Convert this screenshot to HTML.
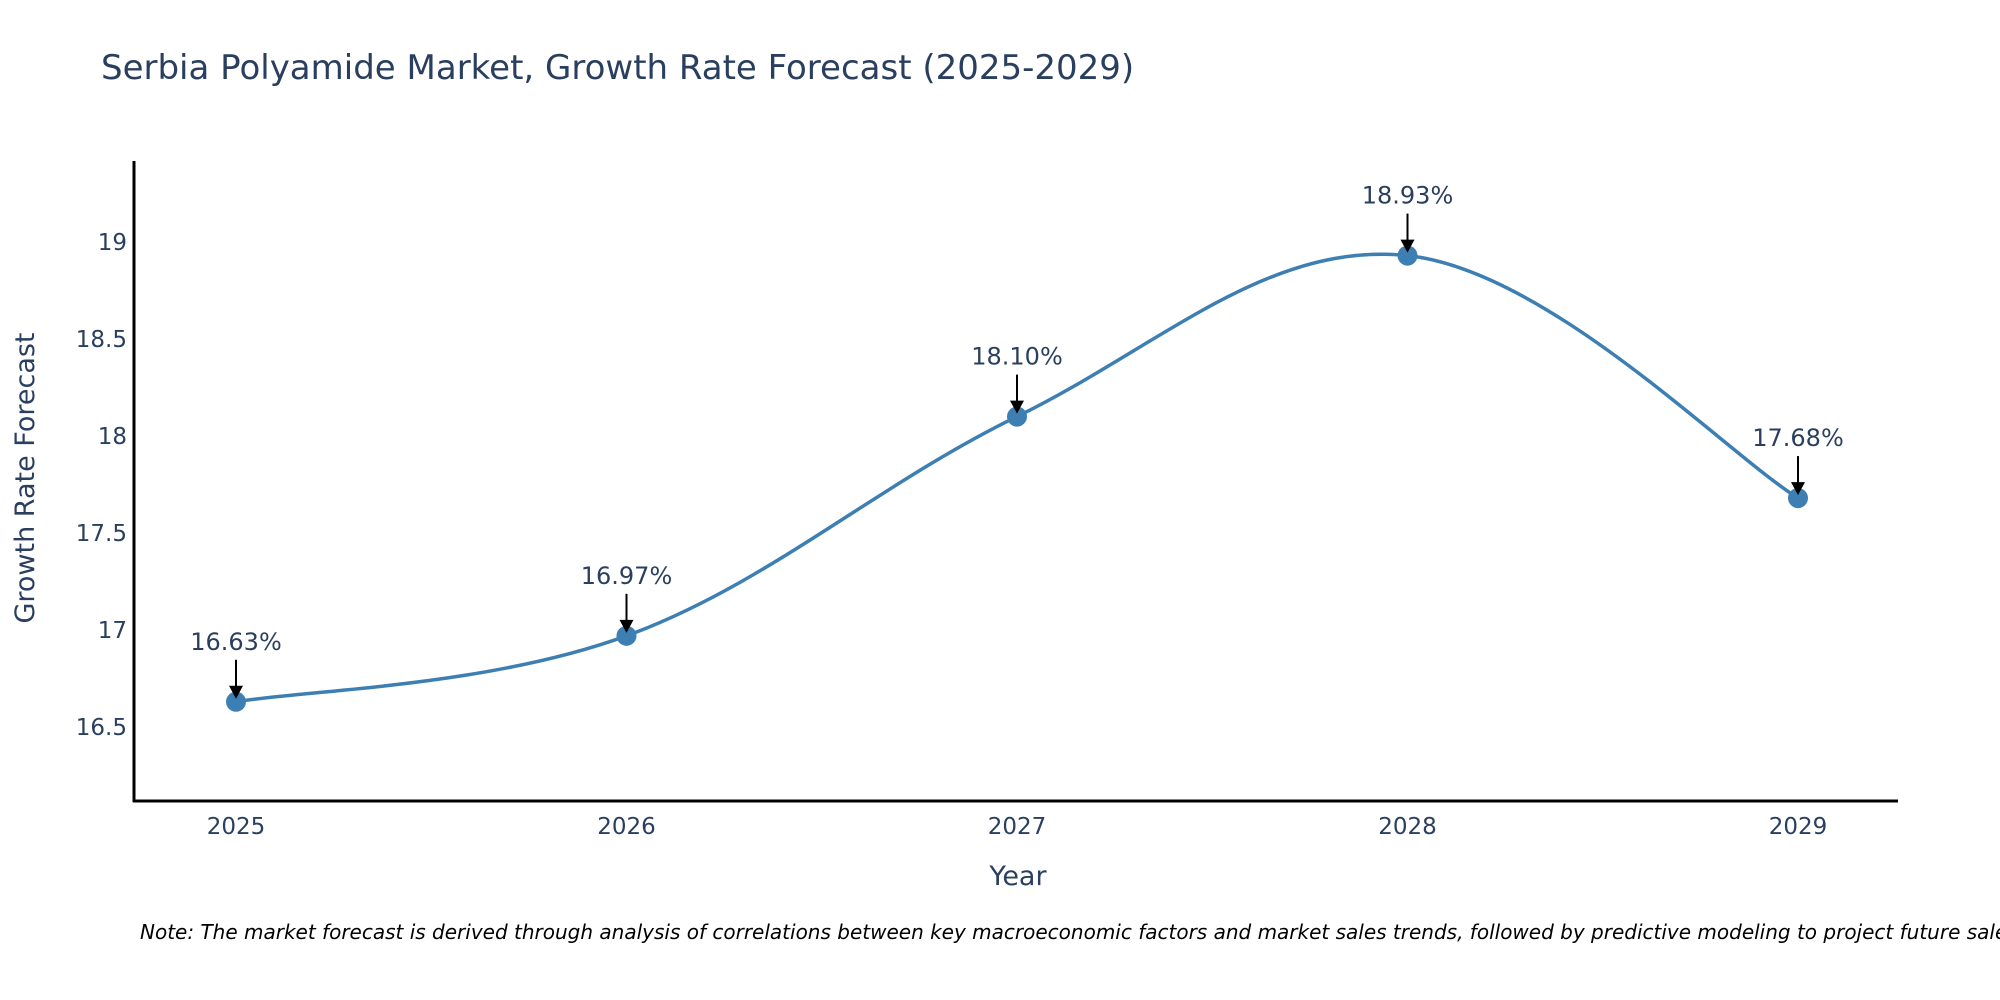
<!DOCTYPE html>
<html><head><meta charset="utf-8"><style>
body{margin:0;background:#fff;}
svg{display:block;font-family:"DejaVu Sans","Liberation Sans",sans-serif;}
</style></head><body>
<svg id="chart" width="2000" height="1000">
<text x="101" y="79" font-size="34" fill="#2a3f5f">Serbia Polyamide Market, Growth Rate Forecast (2025-2029)</text>
<g id="plot"></g>
<text x="34" y="478" font-size="27" fill="#2a3f5f" text-anchor="middle" transform="rotate(-90 34 478)">Growth Rate Forecast</text>
<text x="1018" y="885" font-size="27" fill="#2a3f5f" text-anchor="middle">Year</text>
<text x="140" y="939" font-size="20" font-style="italic" fill="#000">Note: The market forecast is derived through analysis of correlations between key macroeconomic factors and market sales trends, followed by predictive modeling to project future sales.</text>
</svg>
<script>
const years = [2025, 2026, 2027, 2028, 2029];
const values = [16.63, 16.97, 18.10, 18.93, 17.68];
const labels = ["16.63%", "16.97%", "18.10%", "18.93%", "17.68%"];
const yTicks = [16.5, 17, 17.5, 18, 18.5, 19];
const yTickLabels = ["16.5", "17", "17.5", "18", "18.5", "19"];

const NS = "http://www.w3.org/2000/svg";
const g = document.getElementById('plot');
const x = yr => 236 + (yr - 2025) * 390.5;
const y = v => 242 + (19 - v) * 194;
function mk(tag, attrs, parent) {
  const e = document.createElementNS(NS, tag);
  for (const k in attrs) e.setAttribute(k, attrs[k]);
  (parent || g).appendChild(e);
  return e;
}
const yAxis = mk('line', {x1:134, y1:161, x2:134, y2:802, stroke:'#000', 'stroke-width':3});


const xAxis = mk('line', {x1:133, y1:801, x2:1898, y2:801, stroke:'#000', 'stroke-width':3});


yTicks.forEach((v, i) => {
  const t = mk('text', {x:127, y:y(v) + 8, 'font-size':23, fill:'#2a3f5f', 'text-anchor':'end'});
  t.textContent = yTickLabels[i];
  
  
});
years.forEach(yr => {
  const t = mk('text', {x:x(yr), y:834, 'font-size':23, fill:'#2a3f5f', 'text-anchor':'middle'});
  t.textContent = String(yr);
  
  
});
const pts = years.map((yr, i) => [x(yr), y(values[i])]);
let d = `M${pts[0][0]},${pts[0][1]}`;
const s = 0.18;
for (let i = 0; i < pts.length - 1; i++) {
  const p0 = pts[Math.max(0, i - 1)], p1 = pts[i], p2 = pts[i + 1], p3 = pts[Math.min(pts.length - 1, i + 2)];
  const c1 = [p1[0] + (p2[0] - p0[0]) * s, p1[1] + (p2[1] - p0[1]) * s];
  const c2 = [p2[0] - (p3[0] - p1[0]) * s, p2[1] - (p3[1] - p1[1]) * s];
  d += ` C${c1[0]},${c1[1]} ${c2[0]},${c2[1]} ${p2[0]},${p2[1]}`;
}
const line = mk('path', {d:d, fill:'none', stroke:'#3d7fb3', 'stroke-width':3.5});


pts.forEach((p, i) => {
  const c = mk('circle', {cx:p[0], cy:p[1], r:10, fill:'#3d7fb3'});
  
  
  const a = mk('line', {x1:p[0], y1:p[1] - 42, x2:p[0], y2:p[1] - 14, stroke:'#000', 'stroke-width':2});
  
  
  const h = mk('polygon', {points:`${p[0]-7},${p[1]-16} ${p[0]+7},${p[1]-16} ${p[0]},${p[1]-3}`, fill:'#000'});
  
  
  const t = mk('text', {x:p[0], y:p[1] - 52, 'font-size':24, fill:'#2a3f5f', 'text-anchor':'middle'});
  t.textContent = labels[i];
  
  
});
</script>
</body></html>
